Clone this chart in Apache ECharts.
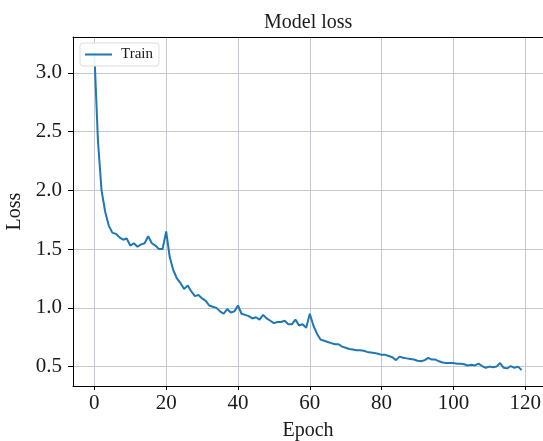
<!DOCTYPE html>
<html>
<head>
<meta charset="utf-8">
<title>Model loss</title>
<script src="https://cdn.jsdelivr.net/npm/echarts@6/dist/echarts.min.js"></script>
<style>
    html, body { margin: 0; padding: 0; background: #fff; }
    #chart { width: 543px; height: 441px; }
</style>
</head>
<body>
<div id="chart"></div>
<script>
// training loss per epoch (0..119)
const trainLoss = [
    3.17, 2.42, 2.00, 1.82, 1.70, 1.64, 1.63, 1.60, 1.58, 1.59,
    1.53, 1.55, 1.52, 1.54, 1.55, 1.61, 1.55, 1.53, 1.50, 1.50,
    1.65, 1.43, 1.32, 1.25, 1.21, 1.16, 1.19, 1.14, 1.10, 1.11,
    1.08, 1.06, 1.02, 1.01, 1.00, 0.97, 0.95, 0.99, 0.96, 0.97,
    1.02, 0.95, 0.94, 0.93, 0.91, 0.92, 0.90, 0.94, 0.91, 0.89,
    0.87, 0.88, 0.88, 0.89, 0.86, 0.86, 0.90, 0.85, 0.86, 0.83,
    0.95, 0.85, 0.78, 0.73, 0.72, 0.71, 0.70, 0.69, 0.69, 0.67,
    0.66, 0.65, 0.645, 0.64, 0.64, 0.635, 0.625, 0.62, 0.615, 0.61,
    0.60, 0.60, 0.59, 0.58, 0.555, 0.585, 0.575, 0.57, 0.565, 0.56,
    0.55, 0.545, 0.555, 0.575, 0.56, 0.56, 0.545, 0.535, 0.53, 0.53,
    0.53, 0.525, 0.525, 0.52, 0.51, 0.515, 0.51, 0.525, 0.505, 0.49,
    0.50, 0.495, 0.50, 0.53, 0.49, 0.485, 0.505, 0.49, 0.50, 0.47
];
const xTicks = [0, 20, 40, 60, 80, 100, 120];
const yTicks = [0.5, 1.0, 1.5, 2.0, 2.5, 3.0];
const seriesName = 'Train';

const font = '"Liberation Serif", "DejaVu Serif", serif';
const textColor = '#1a1a1a';
const gridColor = '#c4c8d2';
const xMin = -5.95;
const xMax = 124.95;

const chart = echarts.init(document.getElementById('chart'));

const axisLine = { show: true, onZero: false, lineStyle: { color: '#000', width: 1 } };
const splitLine = { show: true, lineStyle: { color: gridColor, width: 1 } };

chart.setOption({
    animation: false,
    title: {
        text: 'Model loss',
        left: 259,
        top: 8,
        textStyle: { fontFamily: font, fontSize: 20, fontWeight: 'normal', color: textColor }
    },
    legend: {
        data: [{ name: seriesName, icon: 'rect' }],
        left: 80,
        top: 43,
        itemWidth: 27,
        itemHeight: 2,
        padding: [4, 6, 4, 5],
        backgroundColor: 'rgba(255,255,255,0.92)',
        borderColor: '#dcdcdc',
        borderWidth: 1,
        borderRadius: 3,
        textStyle: { fontFamily: font, fontSize: 15, color: textColor, padding: [0, 0, 0, 4] }
    },
    grid: {
        left: 73,
        top: 37,
        right: 0,
        bottom: 55,
        show: false,
        containLabel: false,
        outerBoundsMode: 'none'
    },
    xAxis: [{
        type: 'value',
        min: xMin,
        max: xMax,
        name: 'Epoch',
        nameLocation: 'middle',
        nameGap: 35,
        nameTextStyle: { fontFamily: font, fontSize: 20, color: textColor },
        axisLine: axisLine,
        axisTick: { show: true, inside: false, length: 4, customValues: xTicks, lineStyle: { color: '#000' } },
        axisLabel: { customValues: xTicks, margin: 7, fontFamily: font, fontSize: 21, color: textColor },
        splitLine: splitLine
    }, {
        // top spine only
        type: 'value',
        position: 'top',
        min: xMin,
        max: xMax,
        axisLine: axisLine,
        axisTick: { show: false },
        axisLabel: { show: false },
        splitLine: { show: false }
    }],
    yAxis: {
        type: 'value',
        min: 0.335,
        max: 3.305,
        name: 'Loss',
        nameLocation: 'middle',
        nameGap: 38,
        nameTextStyle: { fontFamily: font, fontSize: 20, color: textColor },
        axisLine: axisLine,
        axisTick: { show: true, inside: false, length: 5, customValues: yTicks, lineStyle: { color: '#000' } },
        axisLabel: {
            customValues: yTicks,
            margin: 11,
            fontFamily: font,
            fontSize: 21,
            color: textColor,
            formatter: v => v.toFixed(1)
        },
        splitLine: splitLine
    },
    series: [{
        name: seriesName,
        type: 'line',
        xAxisIndex: 0,
        data: trainLoss.map((v, i) => [i, v]),
        showSymbol: false,
        symbol: 'none',
        lineStyle: { color: '#1f77b4', width: 2 },
        itemStyle: { color: '#1f77b4' },
        z: 2
    }]
});

window.addEventListener('resize', () => chart.resize());
</script>
</body>
</html>
